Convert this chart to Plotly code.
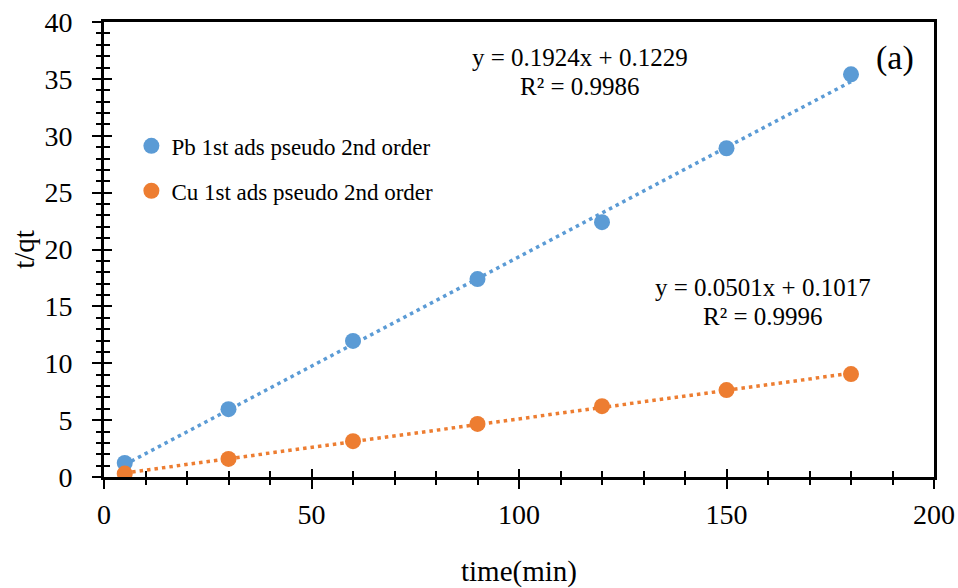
import numpy as np
import plotly.graph_objects as go

# contact time (min)
time_min = [5, 30, 60, 90, 120, 150, 180]
# t/qt for each metal
pb_tqt = [1.23, 5.96, 11.96, 17.4, 22.4, 28.9, 35.4]
cu_tqt = [0.30, 1.59, 3.15, 4.67, 6.23, 7.64, 9.05]

# linear fit coefficients (slope, intercept) and R² for each series
pb_fit = (0.1924, 0.1229, 0.9986)
cu_fit = (0.0501, 0.1017, 0.9996)

blue = "#5B9BD5"
orange = "#ED7D31"
serif = "Liberation Serif"

fit_x = np.array([min(time_min), max(time_min)], dtype=float)

fig = go.Figure()

# dotted linear trendlines
for (m, b, _), col in [(pb_fit, blue), (cu_fit, orange)]:
    fig.add_trace(go.Scatter(
        x=fit_x, y=m * fit_x + b, mode="lines",
        line=dict(color=col, width=3.5, dash="3.5px,4px"),
        showlegend=False, hoverinfo="skip"))

fig.add_trace(go.Scatter(
    x=time_min, y=pb_tqt, mode="markers", name="Pb 1st ads pseudo 2nd order",
    marker=dict(color=blue, size=16), legendgroup="pb"))
fig.add_trace(go.Scatter(
    x=time_min, y=cu_tqt, mode="markers", name="Cu 1st ads pseudo 2nd order",
    marker=dict(color=orange, size=16), legendgroup="cu"))

# invisible trace carrying the overlay axes used for inward tick marks
fig.add_trace(go.Scatter(x=[None], y=[None], xaxis="x2", yaxis="y2",
                         showlegend=False, hoverinfo="skip"))


def label(x, y, text, size):
    fig.add_annotation(x=x, y=y, xref="paper", yref="paper", text=text,
                       showarrow=False, xanchor="center", yanchor="middle",
                       font=dict(family=serif, size=size, color="black"))


# fit equations, one annotation per line for tight line spacing
for fit, xc, y1, y2 in [(pb_fit, 0.574, 0.921, 0.858),
                        (cu_fit, 0.794, 0.416, 0.353)]:
    m, b, r2 = fit
    label(xc, y1, f"y = {m:.4f}x + {b:.4f}", 25)
    label(xc, y2, f"R² = {r2:.4f}", 25)

label(0.953, 0.921, "(a)", 34)

x_range = [0, 200]
y_range = [0, 40]

fig.update_layout(
    width=958, height=588,
    margin=dict(l=104, r=24, t=22, b=111),
    paper_bgcolor="white", plot_bgcolor="white",
    font=dict(family=serif, color="black"),
    showlegend=True,
    legend=dict(x=0.033, y=0.775, xanchor="left", yanchor="top",
                bgcolor="rgba(0,0,0,0)", tracegroupgap=12,
                font=dict(family=serif, size=23, color="black")),
    xaxis=dict(
        range=x_range, dtick=50, tick0=0, automargin=False,
        showgrid=False, zeroline=False,
        showline=True, linecolor="black", linewidth=3, mirror=True,
        ticks="outside", ticklen=9, tickwidth=2, tickcolor="black",
        minor=dict(dtick=10, ticks="outside", ticklen=5, tickwidth=2,
                   tickcolor="black", showgrid=False),
        tickfont=dict(family=serif, size=28, color="black"),
        ticklabelstandoff=1,
        title=dict(text="time(min)", standoff=36,
                   font=dict(family=serif, size=29, color="black")),
    ),
    yaxis=dict(
        range=y_range, dtick=5, tick0=0, automargin=False,
        showgrid=False, zeroline=False,
        showline=True, linecolor="black", linewidth=3, mirror=True,
        ticks="outside", ticklen=9, tickwidth=2, tickcolor="black",
        minor=dict(dtick=1, ticks="outside", ticklen=5, tickwidth=2,
                   tickcolor="black", showgrid=False),
        tickfont=dict(family=serif, size=28, color="black"),
        ticklabelstandoff=14,
        title=dict(text="t/qt", standoff=2,
                   font=dict(family=serif, size=29, color="black")),
    ),
    xaxis2=dict(
        range=x_range, dtick=50, tick0=0, overlaying="x", anchor="y2",
        side="bottom", showgrid=False, zeroline=False, showline=False,
        showticklabels=False, automargin=False,
        ticks="inside", ticklen=8, tickwidth=2, tickcolor="black",
        minor=dict(dtick=10, ticks="inside", ticklen=6, tickwidth=2,
                   tickcolor="black", showgrid=False),
    ),
    yaxis2=dict(
        range=y_range, dtick=5, tick0=0, overlaying="y", anchor="x2",
        side="left", showgrid=False, zeroline=False, showline=False,
        showticklabels=False, automargin=False,
        ticks="inside", ticklen=8, tickwidth=2, tickcolor="black",
        minor=dict(dtick=1, ticks="inside", ticklen=6, tickwidth=2,
                   tickcolor="black", showgrid=False),
    ),
)

fig.write_html("out.html")
